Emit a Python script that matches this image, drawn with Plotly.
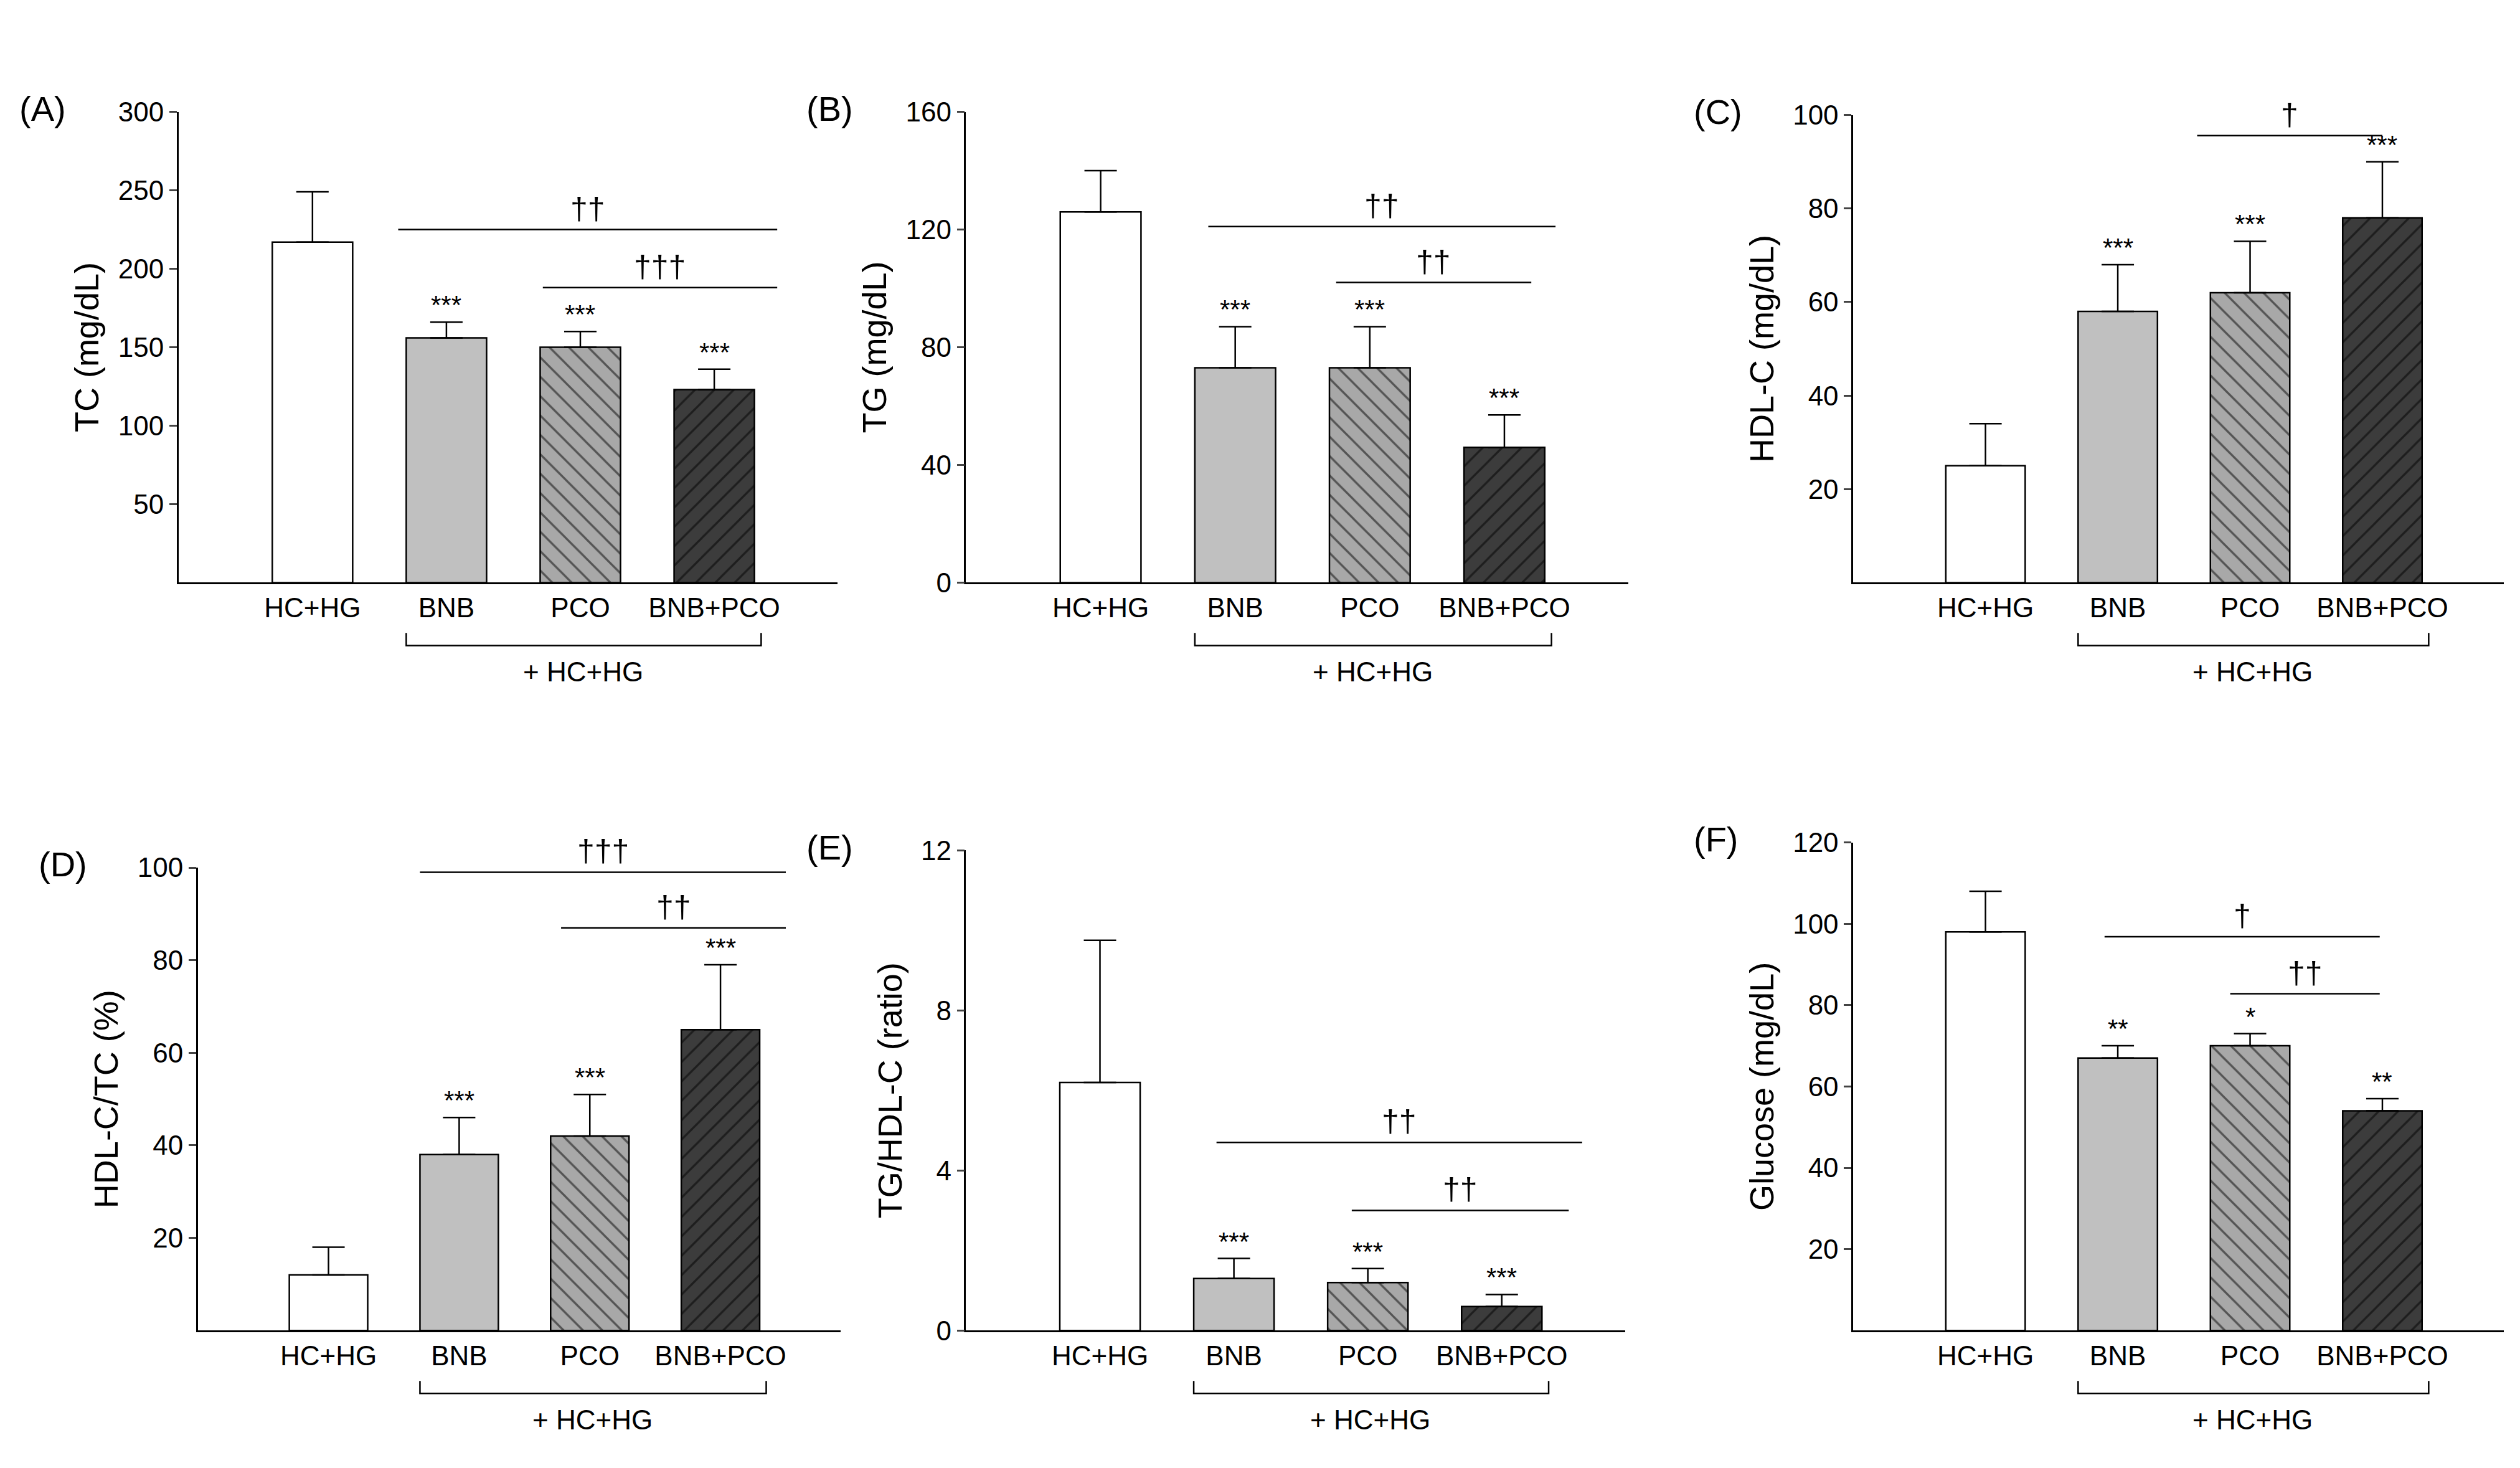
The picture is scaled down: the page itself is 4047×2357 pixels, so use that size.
import plotly.graph_objects as go

groups = ["HC+HG", "BNB", "PCO", "BNB+PCO"]

panel_tags = ["(A)", "(B)", "(C)", "(D)", "(E)", "(F)"]
y_titles = ["TC (mg/dL)", "TG (mg/dL)", "HDL-C (mg/dL)", "HDL-C/TC (%)", "TG/HDL-C (ratio)", "Glucose (mg/dL)"]
means = [
    [217, 156, 150, 123],
    [126, 73, 73, 46],
    [25, 58, 62, 78],
    [12, 38, 42, 65],
    [6.2, 1.3, 1.2, 0.6],
    [98, 67, 70, 54],
]
errs = [
    [32, 10, 10, 13],
    [14, 14, 14, 11],
    [9, 10, 11, 12],
    [6, 8, 9, 14],
    [3.55, 0.5, 0.35, 0.3],
    [10, 3, 3, 3],
]
stars = [
    ["", "***", "***", "***"],
    ["", "***", "***", "***"],
    ["", "***", "***", "***"],
    ["", "***", "***", "***"],
    ["", "***", "***", "***"],
    ["", "**", "*", "**"],
]
# significance lines: (x0, x1, y, label)
sig_lines = [
    [(0.64, 3.47, 225, "††"), (1.72, 3.47, 188, "†††")],
    [(0.8, 3.38, 121, "††"), (1.75, 3.2, 102, "††")],
    [(0.6, 3.0, 108, "††"), (1.6, 3.0, 95.6, "†")],
    [(0.7, 3.5, 99, "†††"), (1.78, 3.5, 87, "††")],
    [(0.87, 3.6, 4.7, "††"), (1.88, 3.5, 3.0, "††")],
    [(0.9, 2.98, 96.8, "†"), (1.85, 2.98, 82.8, "††")],
]
y_ranges = [[0, 300], [0, 160], [0, 100], [0, 100], [0, 12], [0, 120]]
y_ticks = [
    [50, 100, 150, 200, 250, 300],
    [0, 40, 80, 120, 160],
    [20, 40, 60, 80, 100],
    [20, 40, 60, 80, 100],
    [0, 4, 8, 12],
    [20, 40, 60, 80, 100, 120],
]

W, H = 1568, 913  # layout in reference display pixels
x_doms = [(108, 518), (598, 1010), (1150, 1555), (120, 520), (598, 1008), (1150, 1555)]
y_doms = [(58, 357), (58, 357), (60, 357), (538, 832), (527, 832), (522, 832)]

fills = ["white", "#c0c0c0", "#a8a8a8", "#3c3c3c"]
shapes_pat = ["", "", "\\", "/"]

FONT = "Liberation Sans, Arial, sans-serif"
fig = go.Figure()
layout = dict(width=4047, height=2357, plot_bgcolor="white", paper_bgcolor="white",
              showlegend=False, margin=dict(l=0, r=0, t=0, b=0),
              font=dict(family=FONT, size=44, color="black"), bargap=0.4)
shapes, annotations = [], []

for i in range(6):
    ax = "" if i == 0 else str(i + 1)
    xa, ya = "x" + ax, "y" + ax
    x0, x1 = x_doms[i]
    yt, yb = y_doms[i]
    layout["xaxis" + ax] = dict(domain=[x0 / W, x1 / W], range=[-1.0, 3.92], showline=True,
                                linecolor="black", linewidth=2.5, tickmode="array",
                                tickvals=[0, 1, 2, 3], ticktext=groups, ticks="",
                                showgrid=False, zeroline=False, anchor=ya,
                                tickfont=dict(size=44))
    layout["yaxis" + ax] = dict(domain=[1 - yb / H, 1 - yt / H], range=y_ranges[i], showline=True,
                                linecolor="black", linewidth=2.5, tickvals=y_ticks[i],
                                ticks="outside", ticklen=12, tickwidth=2.5, showgrid=False,
                                zeroline=False, anchor=xa, title=dict(text=y_titles[i], font=dict(size=54), standoff=14),
                                tickfont=dict(size=44))
    for j in range(4):
        fig.add_trace(go.Bar(
            x=[j], y=[means[i][j]], width=0.6, xaxis=xa, yaxis=ya,
            marker=dict(color=fills[j], line=dict(color="black", width=2.5),
                        pattern=dict(shape=shapes_pat[j], fgcolor="black", bgcolor=fills[j],
                                     size=22, solidity=0.15)),
            error_y=dict(type="data", array=[errs[i][j]], arrayminus=[0], symmetric=False,
                         color="black", thickness=2.5, width=26),
        ))
        if stars[i][j]:
            annotations.append(dict(x=j, y=means[i][j] + errs[i][j], xref=xa, yref=ya, text=stars[i][j],
                                    showarrow=False, yanchor="bottom", yshift=2, font=dict(size=42)))
    for (a, b, yv, lab) in sig_lines[i]:
        shapes.append(dict(type="line", x0=a, x1=b, y0=yv, y1=yv, xref=xa, yref=ya,
                           line=dict(color="black", width=2.5)))
        annotations.append(dict(x=(a + b) / 2, y=yv, xref=xa, yref=ya, text=lab, showarrow=False,
                                yanchor="bottom", yshift=4, font=dict(size=50)))
    # bracket below treatment groups
    dom = xa + " domain" if False else ya + " domain"
    hpx = yb - yt
    by = -40 / hpx
    bt = -32 / hpx
    shapes.append(dict(type="path", xref=xa, yref=dom,
                       path=f"M 0.7,{bt} L 0.7,{by} L 3.35,{by} L 3.35,{bt}",
                       line=dict(color="black", width=2.5)))
    annotations.append(dict(x=2.02, y=-46 / hpx, xref=xa, yref=dom, text="+ HC+HG", showarrow=False,
                            yanchor="top", font=dict(size=44)))
    annotations.append(dict(x=(x0 - 100) / W, y=1 - (yt - 2) / H, xref="paper", yref="paper",
                            text=panel_tags[i], showarrow=False, xanchor="left", yanchor="middle",
                            font=dict(size=56)))

layout["shapes"] = shapes
layout["annotations"] = annotations
fig.update_layout(**layout)
fig.write_html("out.html")
